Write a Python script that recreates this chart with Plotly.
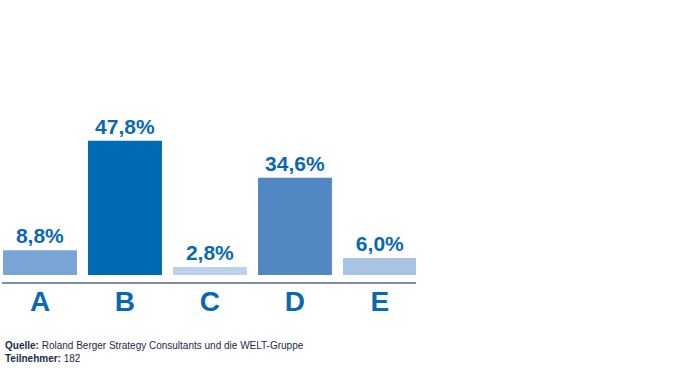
import plotly.graph_objects as go

categories = ["A", "B", "C", "D", "E"]
values = [8.8, 47.8, 2.8, 34.6, 6.0]
value_labels = ["8,8%", "47,8%", "2,8%", "34,6%", "6,0%"]
bar_colors = ["#78a5d6", "#006ab4", "#bcd2ea", "#5287c4", "#a8c4e4"]

TEXT_BLUE = "#0a68b2"
FONT = "Liberation Sans, Arial, sans-serif"

fig = go.Figure()
fig.add_trace(go.Bar(
    x=list(range(len(categories))),
    y=values,
    marker=dict(color=bar_colors, line=dict(width=0)),
    text=value_labels,
    textposition="outside",
    cliponaxis=False,
    textfont=dict(family=FONT, size=21, color=TEXT_BLUE, weight="bold"),
    width=0.87,
    hoverinfo="skip",
))

fig.update_layout(
    width=700, height=370,
    margin=dict(l=2, r=284, t=60, b=88),
    paper_bgcolor="white", plot_bgcolor="white",
    showlegend=False,
    xaxis=dict(
        range=[-0.447, 4.424],
        tickmode="array",
        tickvals=list(range(len(categories))),
        ticktext=categories,
        tickfont=dict(family=FONT, size=28, color=TEXT_BLUE, weight="bold"),
        ticklabelstandoff=-7,
        showline=True, linecolor="#7f8ea4", linewidth=2,
        showgrid=False, zeroline=False, ticks="", ticklen=0,
        fixedrange=True,
    ),
    yaxis=dict(
        range=[-2.5, 76.5],
        visible=False, showgrid=False, zeroline=False, fixedrange=True,
    ),
    annotations=[
        dict(xref="paper", yref="paper", x=0, y=-0.252, xanchor="left", yanchor="top",
             xshift=1, showarrow=False, align="left",
             text="<b>Quelle:</b> Roland Berger Strategy Consultants und die WELT-Gruppe<br><b>Teilnehmer:</b> 182",
             font=dict(family=FONT, size=10, color="#1c2b48")),
    ],
)

fig.write_html("out.html", config={"displayModeBar": False},
               post_script="document.body.style.margin='0';document.body.style.padding='0';")
